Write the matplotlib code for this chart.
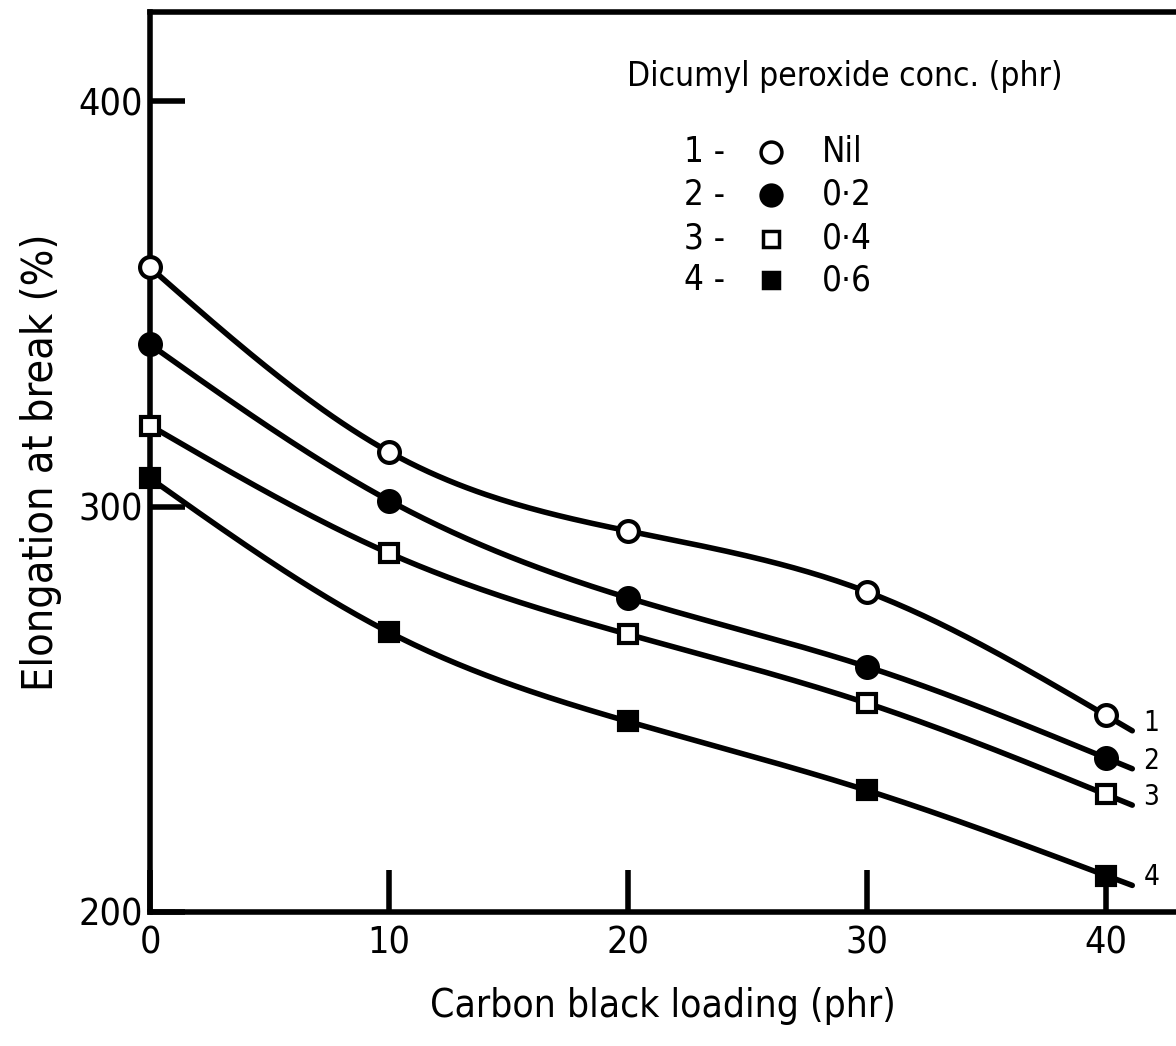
import numpy as np
import matplotlib
matplotlib.use("Agg")
import matplotlib.pyplot as plt

# ---- data ----
loading = [0, 10, 20, 30, 40]
nil = [359, 313.5, 294, 279, 248.5]
dcp_02 = [340, 301.5, 277.5, 260.5, 238]
dcp_04 = [320, 288.5, 268.5, 251.5, 229]
dcp_06 = [307, 269, 247, 230, 209]
series_ids = ["1", "2", "3", "4"]
conc_labels = ["Nil", "0·2", "0·4", "0·6"]
x_ticks = [0, 10, 20, 30, 40]
y_ticks = [200, 300, 400]

plt.rcParams['font.family'] = ["DejaVu Sans"]
plt.rcParams['font.stretch'] = 'condensed'


def natural_spline(x, y, n=200):
    x = np.asarray(x, float); y = np.asarray(y, float)
    k = len(x); h = np.diff(x)
    A = np.zeros((k, k)); b = np.zeros(k)
    A[0, 0] = A[-1, -1] = 1
    for i in range(1, k - 1):
        A[i, i - 1] = h[i - 1]; A[i, i] = 2 * (h[i - 1] + h[i]); A[i, i + 1] = h[i]
        b[i] = 3 * ((y[i + 1] - y[i]) / h[i] - (y[i] - y[i - 1]) / h[i - 1])
    c = np.linalg.solve(A, b)
    bb = np.zeros(k - 1); d = np.zeros(k - 1)
    for i in range(k - 1):
        bb[i] = (y[i + 1] - y[i]) / h[i] - h[i] * (2 * c[i] + c[i + 1]) / 3
        d[i] = (c[i + 1] - c[i]) / (3 * h[i])
    xs = np.linspace(x[0], x[-1], n)
    idx = np.clip(np.searchsorted(x, xs) - 1, 0, k - 2)
    t = xs - x[idx]
    ys = y[idx] + bb[idx] * t + c[idx] * t ** 2 + d[idx] * t ** 3
    i = k - 2; t = h[i]
    slope_end = bb[i] + 2 * c[i] * t + 3 * d[i] * t ** 2
    return xs, ys, slope_end


fig = plt.figure(figsize=(11.76, 10.46), dpi=100)
ax = fig.add_axes([150 / 1176, 134 / 1046, 1026 / 1176, 900 / 1046])
ax.set_xlim(0, 42.93)
ax.set_ylim(200, 422)

data = [nil, dcp_02, dcp_04, dcp_06]
markers = [dict(marker='o', mfc='white'), dict(marker='o', mfc='black'),
           dict(marker='s', mfc='white'), dict(marker='s', mfc='black')]
for vals, mk, sid in zip(data, markers, series_ids):
    xs, ys, s = natural_spline(loading, vals)
    ax.plot(xs, ys, color='black', lw=4, zorder=2, solid_capstyle='round')
    tail = 1.1
    ax.plot([loading[-1], loading[-1] + tail], [vals[-1], vals[-1] + s * tail],
            color='black', lw=4, zorder=2, solid_capstyle='round')
    ax.plot(loading, vals, ls='none', marker=mk['marker'], mfc=mk['mfc'], mec='black',
            mew=3, ms=15 if mk['marker'] == 'o' else 13, zorder=3, clip_on=False)
    ax.text(loading[-1] + 1.9, vals[-1] + s * tail + 2, sid, fontsize=20,
            ha='center', va='center')

for sp in ['left', 'bottom', 'top']:
    ax.spines[sp].set_linewidth(4)
ax.spines['right'].set_visible(False)

ax.set_xticks(x_ticks)
ax.set_xticklabels([str(v) for v in x_ticks], fontsize=27)
ax.set_yticks(y_ticks)
ax.set_yticklabels([str(v) for v in y_ticks], fontsize=27)
ax.tick_params(axis='x', direction='in', length=30, width=4, pad=10)
ax.tick_params(axis='y', direction='in', length=25, width=4, pad=5)

ax.set_xlabel("Carbon black loading (phr)", fontsize=28, labelpad=18)
ax.set_ylabel("Elongation at break (%)", fontsize=31, labelpad=12)

# legend (hand-drawn style key)
ax.text(0.465, 0.928, "Dicumyl peroxide conc. (phr)", transform=ax.transAxes,
        fontsize=24, ha='left', va='center')
row_y = [0.845, 0.797, 0.748, 0.702]
for ry, mk, sid, lab in zip(row_y, markers, series_ids, conc_labels):
    ax.text(0.52, ry, f"{sid} -", transform=ax.transAxes, fontsize=25, ha='left', va='center')
    ax.plot([0.605], [ry], transform=ax.transAxes, marker=mk['marker'], mfc=mk['mfc'],
            mec='black', mew=2.5, ms=15 if mk['marker'] == 'o' else 12, ls='none')
    ax.text(0.655, ry, lab, transform=ax.transAxes, fontsize=25, ha='left', va='center')

fig.savefig("out.png", dpi=100)
